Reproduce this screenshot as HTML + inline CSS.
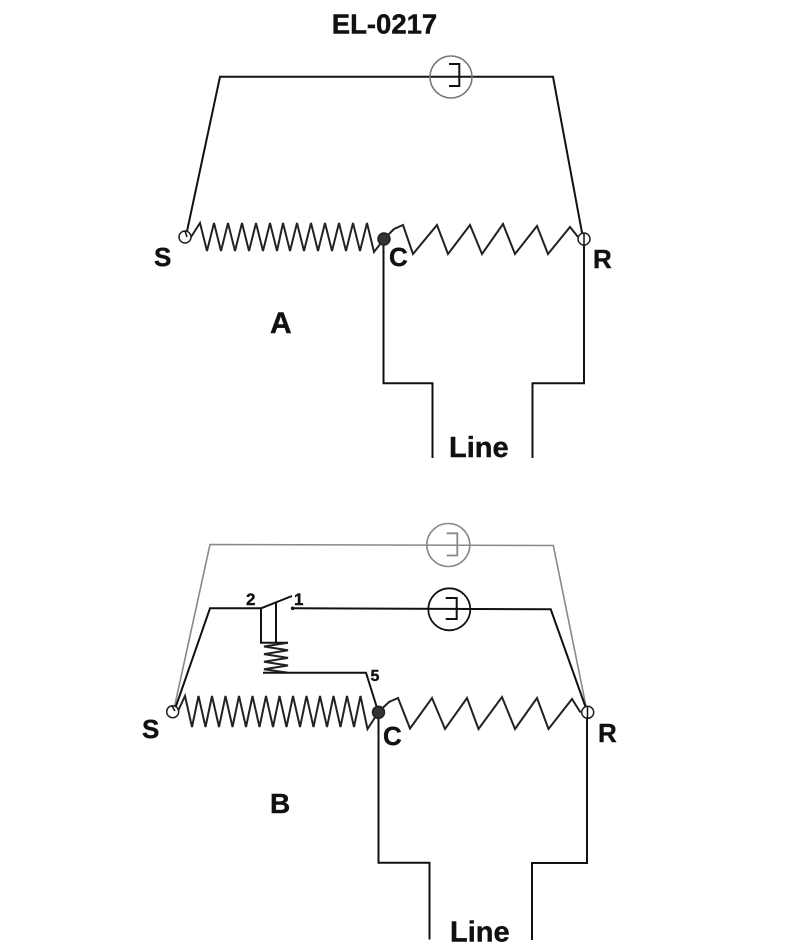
<!DOCTYPE html>
<html>
<head>
<meta charset="utf-8">
<style>
  html,body{margin:0;padding:0;background:#fff;}
  svg{display:block;}
  text{font-family:"Liberation Sans",Arial,sans-serif;font-weight:bold;fill:#111;stroke:#111;stroke-width:0.4;}
</style>
</head>
<body>
<svg width="800" height="951" viewBox="0 0 800 951" xmlns="http://www.w3.org/2000/svg">
  <!-- Title -->
  <text x="384.5" y="33.3" font-size="27.5" text-anchor="middle">EL-0217</text>

  <!-- ================= Diagram A ================= -->
  <g fill="none" stroke-linejoin="miter" stroke-linecap="butt">
    <!-- top loop -->
    <polyline points="186,236 220,76.7 553,76.7 583,238" stroke="#111" stroke-width="2"/>
    <circle cx="451" cy="77" r="21" stroke="#777" stroke-width="1.6"/>
    <polyline points="449,64 459.3,64 459.3,86 449,86" stroke="#111" stroke-width="2"/>

    <!-- S coil -->
    <polyline stroke="#222" stroke-width="2" points="191,237 200,223 207,251 214,223 221,251 228,223 235,251 242,223 249,251 256,223 263,251 270,223 277,251 283,223 290,251 297,223 304,251 311,223 318,251 325,223 332,251 339,223 346,251 353,223 360,251 367,223 374,252 384,239"/>
    <!-- R coil -->
    <polyline stroke="#222" stroke-width="2" points="384,239 394,229 403,225 413,254 437,225 448,254 470,225 482,254 503,224 515,254 537,226 548,254 570,227 578,237 583,238"/>

    <!-- lower wires -->
    <polyline points="383.5,239 383.5,383.3 432.5,383.3 432.5,458" stroke="#111" stroke-width="2"/>
    <polyline points="584,238 584,383.3 532.5,383.3 532.5,458" stroke="#111" stroke-width="2"/>

    <!-- terminals -->
    <circle cx="185" cy="237" r="6" stroke="#222" stroke-width="1.5" fill="#fff"/>
    <circle cx="384" cy="239" r="6" stroke="#222" stroke-width="1.5" fill="#333"/>
    <circle cx="584" cy="239" r="6" stroke="#222" stroke-width="1.5" fill="#fff"/>
    <line x1="584" y1="233" x2="584" y2="245" stroke="#111" stroke-width="1.5"/>
    <line x1="185" y1="231" x2="187" y2="237" stroke="#111" stroke-width="1.5"/>
  </g>
  <text x="154" y="266" font-size="26">S</text>
  <text x="389" y="266" font-size="26">C</text>
  <text x="593" y="268" font-size="26">R</text>
  <text x="270" y="333" font-size="30">A</text>
  <text x="449" y="457" font-size="29">Line</text>

  <!-- ================= Diagram B ================= -->
  <g fill="none" stroke-linejoin="miter" stroke-linecap="butt">
    <!-- outer gray loop -->
    <polyline points="174,709 210,544.5 553.3,545.5 587,711" stroke="#888" stroke-width="1.6"/>
    <circle cx="448.3" cy="545" r="21.5" stroke="#888" stroke-width="1.6"/>
    <polyline points="446.7,533.3 457.3,533.3 457.3,555.5 446.7,555.5" stroke="#888" stroke-width="1.8"/>

    <!-- inner black loop with switch -->
    <polyline points="175,709 210,608.3 261,608.3" stroke="#111" stroke-width="2"/>
    <line x1="261" y1="608.3" x2="292" y2="596" stroke="#111" stroke-width="2"/>
    <circle cx="292.7" cy="608.3" r="1.8" fill="#111"/>
    <polyline points="292.7,608.3 550.7,609.3 587,711" stroke="#111" stroke-width="2"/>
    <circle cx="449.3" cy="609.3" r="21" stroke="#111" stroke-width="1.8"/>
    <polyline points="445.7,598 456.7,598 456.7,619 445.7,619" stroke="#111" stroke-width="2"/>

    <!-- relay coil -->
    <polyline points="261,608.3 261,642.7 288,642.7" stroke="#111" stroke-width="2"/>
    <line x1="276" y1="602.3" x2="276" y2="642.7" stroke="#111" stroke-width="2"/>
    <polyline stroke="#222" stroke-width="2" points="288,642.7 264,646.5 288,650.3 264,654.1 288,657.9 264,661.7 288,665.5 264,669.3 288,672.7"/>
    <polyline points="263,672.7 366,672.7 378,711" stroke="#111" stroke-width="2"/>

    <!-- S coil -->
    <polyline stroke="#222" stroke-width="2" points="178,711 185,696 192,727 198.5,696 205.5,727 212,696 219,727 225.5,696 232.5,727 239,696 246,727 252.5,696 259.5,727 266,696 273,727 279.5,696 286.5,727 293,696 300,727 306.5,696 313.5,727 320,696 327,727 333.5,696 340.5,727 347,696 354,727 360.5,696 367.5,729 378.5,712"/>
    <!-- R coil -->
    <polyline stroke="#222" stroke-width="2" points="378.5,712 389,702 398,698 410,728.5 432,698 445,729 467,698 478.5,729 502,697 515,729 537,698 548.5,729 572,699 580,711.7 587.5,712"/>

    <!-- lower wires -->
    <polyline points="378.5,712 378.5,862.8 429.5,862.8 429.5,939.5" stroke="#111" stroke-width="2"/>
    <polyline points="587,712 587,863 532,863 532,940" stroke="#111" stroke-width="2"/>

    <!-- terminals -->
    <circle cx="172.7" cy="711.7" r="6" stroke="#222" stroke-width="1.5" fill="#fff"/>
    <circle cx="378.5" cy="712.3" r="6" stroke="#222" stroke-width="1.5" fill="#333"/>
    <circle cx="587.7" cy="712.3" r="6" stroke="#222" stroke-width="1.5" fill="#fff"/>
    <line x1="587.5" y1="706" x2="587.5" y2="718" stroke="#111" stroke-width="1.5"/>
    <line x1="172" y1="706" x2="175" y2="711" stroke="#111" stroke-width="1.5"/>
  </g>
  <text x="246" y="605" font-size="17">2</text>
  <text x="294" y="605" font-size="17">1</text>
  <text x="370.5" y="681" font-size="16">5</text>
  <text x="142" y="738" font-size="26">S</text>
  <text x="383" y="745" font-size="26">C</text>
  <text x="598" y="742" font-size="26">R</text>
  <text x="270" y="813" font-size="28">B</text>
  <text x="450" y="941.5" font-size="29">Line</text>
</svg>
</body>
</html>
